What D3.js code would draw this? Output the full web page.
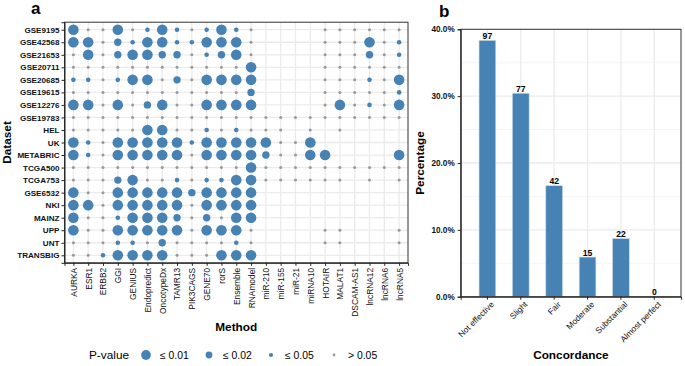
<!DOCTYPE html>
<html>
<head>
<meta charset="utf-8">
<script src="https://cdn.jsdelivr.net/npm/d3@7"></script>
<style>
  body { margin: 0; background: #fff; }
  svg { font-family: "Liberation Sans", Arial, sans-serif; }
</style>
</head>
<body>
<svg id="chart" width="685" height="366"></svg>
<script>
// panel a: methods x datasets, p-value class per cell
const methods = ['AURKA', 'ESR1', 'ERBB2', 'GGI', 'GENIUS', 'Endopredict', 'OncotypeDx',
  'TAMR13', 'PIK3CAGS', 'GENE70', 'rorS', 'Ensemble', 'RNAmodel', 'miR-210', 'miR-155',
  'miR-21', 'miRNA10', 'HOTAIR', 'MALAT1', 'DSCAM-AS1', 'lncRNA12', 'lncRNA6', 'lncRNA5'];

const datasets = ['GSE9195', 'GSE42568', 'GSE21653', 'GSE20711', 'GSE20685', 'GSE19615',
  'GSE12276', 'GSE19783', 'HEL', 'UK', 'METABRIC', 'TCGA500', 'TCGA753', 'GSE6532', 'NKI',
  'MAINZ', 'UPP', 'UNT', 'TRANSBIG'];

// L: <=0.01, M: <=0.02, S: <=0.05, G: >0.05, '.': not tested
const pClass = [
  'LGGLGSLSGSLSG....GGGGGG',
  'LLGMSLLSSLLLG....GGGLGS',
  'GLGMLLMMGSMLG....GGGMGS',
  'GGGGGGGGGGGGL....GGGGGG',
  'SSGSLLGMGLLLL....GGGSGL',
  'GGGGGGGGGGGGM....GGGGGS',
  'LLGLGMLGGLLLL....GLGSGL',
  'GGGGGGGGGGGGGGGGGGGGGGG',
  'GGGGGLLGGSGSGGG.G.G....',
  'LSGLLLLLSLLLLLGGL......',
  'LSGLLLLLGLLLLMGGLL....L',
  'GGGGGGGGGGGGLGGGGGGGGGG',
  'GGGMLGGSGSSLLGGGGGG.G.G',
  'LGGLLLLLMLLLL..........',
  'LLGLLLLLGLLLL..........',
  'LGGSLLLMGMGLL..........',
  'LGGLLLLLGLLLG....GG...G',
  'GGGSSGMGGGGSG....GG...G',
  'GGSLLLLGGGLLL..........'
];

const pLevels = ['L', 'M', 'S', 'G'];
const pLabels = ['\u2264 0.01', '\u2264 0.02', '\u2264 0.05', '> 0.05'];

// panel b
const concordance = ['Not effective', 'Slight', 'Fair', 'Moderate', 'Substantial', 'Almost perfect'];
const counts = [97, 77, 42, 15, 22, 0];
const yTicksB = [0, 0.1, 0.2, 0.3, 0.4];

const blue = '#4682b4';
const grey = '#999999';
const gridCol = '#ebebeb';

const svg = d3.select('#chart');

// ---------- panel a ----------
const a = { left: 64.5, right: 408, top: 22.2, bottom: 262.8 };

const x = d3.scalePoint().domain(methods).range([a.left, a.right]).padding(0.6);
const y = d3.scalePoint().domain(datasets).range([a.top, a.bottom]).padding(0.6);
const r = d3.scaleOrdinal().domain(pLevels).range([5.3, 3.7, 2.3, 1.5]);
const fill = d3.scaleOrdinal().domain(pLevels).range([blue, blue, blue, grey]);

const cells = [];
datasets.forEach((ds, i) => {
  methods.forEach((m, j) => {
    const c = pClass[i][j];
    if (c !== '.') cells.push({ dataset: ds, method: m, p: c });
  });
});

const gA = svg.append('g');

gA.append('g').selectAll('line.v').data(methods).join('line')
  .attr('x1', d => x(d)).attr('x2', d => x(d))
  .attr('y1', a.top).attr('y2', a.bottom)
  .attr('stroke', gridCol).attr('stroke-width', 1.3);
gA.append('g').selectAll('line.h').data(datasets).join('line')
  .attr('x1', a.left).attr('x2', a.right)
  .attr('y1', d => y(d)).attr('y2', d => y(d))
  .attr('stroke', gridCol).attr('stroke-width', 1.3);

gA.append('g').selectAll('circle').data(cells).join('circle')
  .attr('cx', d => x(d.method))
  .attr('cy', d => y(d.dataset))
  .attr('r', d => r(d.p))
  .attr('fill', d => fill(d.p));

gA.append('rect')
  .attr('x', a.left).attr('y', a.top)
  .attr('width', a.right - a.left).attr('height', a.bottom - a.top)
  .attr('fill', 'none').attr('stroke', '#333').attr('stroke-width', 1);

const xAxisA = gA.append('g')
  .attr('transform', `translate(0,${a.bottom})`)
  .call(d3.axisBottom(x).tickSize(3).tickPadding(2));
xAxisA.select('.domain').attr('stroke', '#222');
xAxisA.selectAll('line').attr('stroke', '#222');
xAxisA.selectAll('text')
  .attr('font-size', 8.4).attr('fill', '#111')
  .attr('transform', 'rotate(-90)')
  .attr('text-anchor', 'end')
  .attr('x', -5).attr('y', 0).attr('dy', '0.35em');

const yAxisA = gA.append('g')
  .attr('transform', `translate(${a.left},0)`)
  .call(d3.axisLeft(y).tickSize(3).tickPadding(2));
yAxisA.select('.domain').attr('stroke', '#222');
yAxisA.selectAll('line').attr('stroke', '#222');
yAxisA.selectAll('text')
  .attr('font-size', 8.1).attr('font-weight', 'bold').attr('fill', '#111');

gA.append('text')
  .attr('x', (a.left + a.right) / 2).attr('y', 331)
  .attr('text-anchor', 'middle').attr('font-size', 11.8).attr('font-weight', 'bold')
  .text('Method');

gA.append('text')
  .attr('transform', `translate(10.5,${(a.top + a.bottom) / 2}) rotate(-90)`)
  .attr('text-anchor', 'middle').attr('font-size', 11.8).attr('font-weight', 'bold')
  .text('Dataset');

gA.append('text')
  .attr('x', 31).attr('y', 14)
  .attr('font-size', 17).attr('font-weight', 'bold')
  .text('a');

// legend
const leg = gA.append('g').attr('transform', 'translate(0,355)');
leg.append('text')
  .attr('x', 89).attr('y', 4)
  .attr('font-size', 11.8).text('P-value');
const legX = [146, 209, 271, 334];
leg.selectAll('circle').data(pLevels).join('circle')
  .attr('cx', (d, i) => legX[i]).attr('cy', 0)
  .attr('r', d => r(d) * 0.92)
  .attr('fill', d => fill(d));
leg.selectAll('text.lab').data(pLabels).join('text')
  .attr('class', 'lab')
  .attr('x', (d, i) => legX[i] + 14).attr('y', 3.7)
  .attr('font-size', 10.4).text(d => d);

// ---------- panel b ----------
const b = { left: 460.7, right: 681, top: 29.3, bottom: 296.7 };
const total = d3.sum(counts);
const bars = concordance.map((c, i) => ({ cat: c, n: counts[i], pct: counts[i] / total }));

const xb = d3.scaleBand().domain(concordance).range([b.left, b.right]).paddingOuter(0.3).paddingInner(0);
const yb = d3.scaleLinear().domain([0, 0.4]).range([b.bottom, b.top]);

const gB = svg.append('g');

gB.append('g').selectAll('line').data([0.05, 0.15, 0.25, 0.35]).join('line')
  .attr('x1', b.left).attr('x2', b.right)
  .attr('y1', d => yb(d)).attr('y2', d => yb(d))
  .attr('stroke', '#f3f3f3').attr('stroke-width', 0.8);
gB.append('g').selectAll('line').data(yTicksB).join('line')
  .attr('x1', b.left).attr('x2', b.right)
  .attr('y1', d => yb(d)).attr('y2', d => yb(d))
  .attr('stroke', gridCol).attr('stroke-width', 1.3);
gB.append('g').selectAll('line').data(concordance).join('line')
  .attr('x1', d => xb(d) + xb.bandwidth() / 2).attr('x2', d => xb(d) + xb.bandwidth() / 2)
  .attr('y1', b.top).attr('y2', b.bottom)
  .attr('stroke', gridCol).attr('stroke-width', 1.3);

const bw = xb.bandwidth() * 0.5;
gB.append('g').selectAll('rect').data(bars).join('rect')
  .attr('x', d => xb(d.cat) + xb.bandwidth() / 2 - bw / 2)
  .attr('y', d => yb(d.pct))
  .attr('width', bw)
  .attr('height', d => yb(0) - yb(d.pct))
  .attr('fill', blue)
  .attr('stroke', '#c6d9ea').attr('stroke-width', 0.6);

gB.append('g').selectAll('text').data(bars).join('text')
  .attr('x', d => xb(d.cat) + xb.bandwidth() / 2)
  .attr('y', d => yb(d.pct) - 1.5)
  .attr('text-anchor', 'middle').attr('font-size', 8.6).attr('font-weight', 'bold')
  .text(d => d.n);

gB.append('rect')
  .attr('x', b.left).attr('y', b.top)
  .attr('width', b.right - b.left).attr('height', b.bottom - b.top)
  .attr('fill', 'none').attr('stroke', '#333').attr('stroke-width', 1);

const xAxisB = gB.append('g')
  .attr('transform', `translate(0,${b.bottom})`)
  .call(d3.axisBottom(xb).tickSize(3).tickPadding(2));
xAxisB.select('.domain').attr('stroke', '#222');
xAxisB.selectAll('line').attr('stroke', '#222');
xAxisB.selectAll('text')
  .attr('font-size', 8.4).attr('fill', '#111')
  .attr('text-anchor', 'end')
  .attr('transform', 'translate(3,4) rotate(-45)')
  .attr('y', 0).attr('dy', '0.71em');

const yAxisB = gB.append('g')
  .attr('transform', `translate(${b.left},0)`)
  .call(d3.axisLeft(yb).tickValues(yTicksB).tickFormat(d3.format('.1%')).tickSize(3).tickPadding(3));
yAxisB.select('.domain').attr('stroke', '#222');
yAxisB.selectAll('line').attr('stroke', '#222');
yAxisB.selectAll('text')
  .attr('font-size', 8.2).attr('font-weight', 'bold').attr('fill', '#111');

gB.append('text')
  .attr('x', (b.left + b.right) / 2).attr('y', 359)
  .attr('text-anchor', 'middle').attr('font-size', 11.8).attr('font-weight', 'bold')
  .text('Concordance');

gB.append('text')
  .attr('transform', `translate(424,${(b.top + b.bottom) / 2}) rotate(-90)`)
  .attr('text-anchor', 'middle').attr('font-size', 11.8).attr('font-weight', 'bold')
  .text('Percentage');

gB.append('text')
  .attr('x', 439).attr('y', 17)
  .attr('font-size', 17).attr('font-weight', 'bold')
  .text('b');
</script>
</body>
</html>
